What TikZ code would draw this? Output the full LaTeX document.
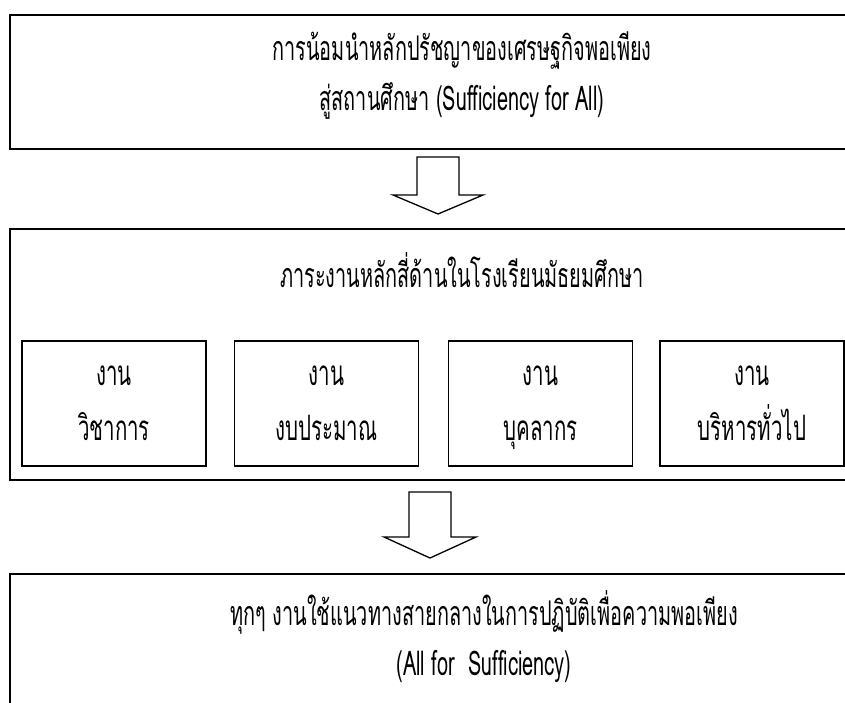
\documentclass[tikz,border=0pt]{standalone}
\usepackage{fontspec}
\newfontfamily\thaifont[Script=Thai,FakeStretch=0.585]{Loma}
\usetikzlibrary{positioning}
\tikzset{%
	bigbox/.style  = {draw, rectangle, line width=1.6pt, anchor=north west, inner sep=0pt},
	subbox/.style  = {draw, rectangle, line width=1.3pt, minimum width=184pt, minimum height=125pt, inner sep=0pt, align=center, font=\thaifont\fontsize{35}{55}\selectfont},
	txt/.style     = {align=center, inner sep=0pt, font=\thaifont\fontsize{34}{50}\selectfont},
	hollow/.style  = {draw, line width=1.3pt, fill=white, line join=miter},
}
\begin{document}
\begin{tikzpicture}[x=1pt,y=-1pt]
		\useasboundingbox (0,0) rectangle (845,702);
		% boxes
		\node [bigbox, minimum width=906pt, minimum height=134pt] (top) at (9,14) {};
		\node [bigbox, minimum width=906pt, minimum height=251pt] (mid) at (9,228) {};
		\node [bigbox, minimum width=950pt, minimum height=180pt] (bot) at (9,573) {};
		
		\node [txt] (toptxt) at (462,76) {การน้อมนำหลักปรัชญาของเศรษฐกิจพอเพียง\\สู่สถานศึกษา (Sufficiency for All)};
		\node [txt] (midtxt) at (462,270) {ภาระงานหลักสี่ด้านในโรงเรียนมัธยมศึกษา};
		\node [txt] (bottxt) at (484,637) {ทุกๆ งานใช้แนวทางสายกลางในการปฏิบัติเพื่อความพอเพียง\\(All for~~Sufficiency)};
		
		\node [subbox] (w1) at (114,403.5) {งาน\\\smash{วิชาการ}};
		\node [subbox] (w2) [right=27pt of w1] {งาน\\\smash{งบประมาณ}};
		\node [subbox] (w3) [right=29pt of w2] {งาน\\\smash{บุคลากร}};
		\node [subbox] (w4) [right=26pt of w3] {งาน\\\smash{บริหารทั่วไป}};
		
		% block arrows
		\coordinate (a1) at (438,157);
		\coordinate (a2) at (430,492);
		\draw [hollow] (a1) ++(-21,0) -- ++(42,0) -- ++(0,38) -- ++(24,0) -- ++(-45,19) -- ++(-45,-19) -- ++(24,0) -- cycle;
		\draw [hollow] (a2) ++(-21,0) -- ++(42,0) -- ++(0,45) -- ++(25,0) -- ++(-46,21) -- ++(-46,-21) -- ++(25,0) -- cycle;
\end{tikzpicture}
\end{document}
